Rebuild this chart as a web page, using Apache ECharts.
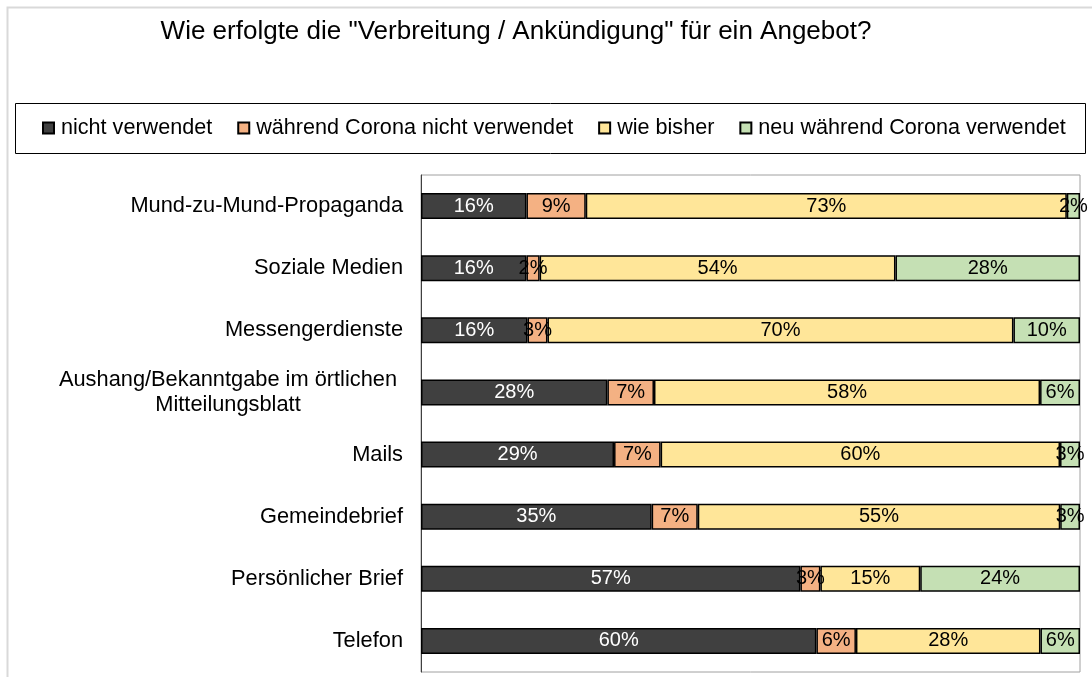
<!DOCTYPE html>
<html>
<head>
<meta charset="utf-8">
<script src="https://cdn.jsdelivr.net/npm/echarts@6/dist/echarts.min.js"></script>
<style>
  html, body { margin: 0; padding: 0; background: #fff; }
  #chart { width: 1092px; height: 677px; }
</style>
</head>
<body>
<div id="chart"></div>
<script>
var categories = [
  'Mund-zu-Mund-Propaganda',
  'Soziale Medien',
  'Messengerdienste',
  'Aushang/Bekanntgabe im örtlichen\nMitteilungsblatt',
  'Mails',
  'Gemeindebrief',
  'Persönlicher Brief',
  'Telefon'
];
var seriesNames = ['nicht verwendet', 'während Corona nicht verwendet', 'wie bisher', 'neu während Corona verwendet'];
// Prozentwerte wie beschriftet
var nichtVerwendet = [16, 16, 16, 28, 29, 35, 57, 60];
var coronaNicht = [9, 2, 3, 7, 7, 7, 3, 6];
var wieBisher = [73, 54, 70, 58, 60, 55, 15, 28];
var neuCorona = [2, 28, 10, 6, 3, 3, 24, 6];

var colors = ['#404040', '#f4b183', '#ffe699', '#c5e0b4'];
var labelColors = ['#fff', '#000', '#000', '#000'];

var chart = echarts.init(document.getElementById('chart'));

window.addEventListener('resize', function() {
  chart.resize();
});

// 100%-gestapelt: jede Zeile wird auf 100 normiert, Beschriftung bleibt der Wert
var rows = [nichtVerwendet, coronaNicht, wieBisher, neuCorona];
var totals = categories.map(function(c, i) {
  return rows[0][i] + rows[1][i] + rows[2][i] + rows[3][i];
});

var series = rows.map(function(vals, s) {
  return {
    name: seriesNames[s],
    type: 'bar',
    stack: 'total',
    barWidth: 26,
    itemStyle: {
      color: colors[s],
      borderColor: '#000',
      borderWidth: 1.5
    },
    label: {
      show: true,
      position: 'inside',
      color: labelColors[s],
      fontFamily: 'Liberation Sans, Arial, sans-serif',
      fontSize: 20,
      formatter: function(p) {
        return vals[p.dataIndex] + '%';
      }
    },
    emphasis: { disabled: true },
    data: vals.map(function(v, i) {
      return v / totals[i] * 100;
    })
  };
});

var option = {
  animation: false,
  textStyle: { fontFamily: 'Liberation Sans, Arial, sans-serif' },
  graphic: [{
    type: 'rect',
    shape: { x: 7.5, y: 7.5, width: 1100, height: 700 },
    style: { fill: 'none', stroke: '#d9d9d9', lineWidth: 2 },
    silent: true
  }, {
    type: 'rect',
    shape: { x: 15.5, y: 103.5, width: 1070, height: 50 },
    style: { fill: 'none', stroke: '#000', lineWidth: 1 },
    silent: true
  }],
  title: {
    text: 'Wie erfolgte die "Verbreitung / Ankündigung" für ein Angebot?',
    left: 511,
    top: 14,
    textAlign: 'center',
    textStyle: {
      fontSize: 26,
      fontWeight: 'normal',
      color: '#000',
      fontFamily: 'Liberation Sans, Arial, sans-serif'
    }
  },
  legend: {
    data: seriesNames,
    left: 42,
    top: 117,
    padding: 0,
    itemGap: 25,
    itemWidth: 11,
    itemHeight: 11,
    icon: 'rect',
    textStyle: {
      fontSize: 21.6,
      color: '#000',
      padding: [0, 0, 0, 2]
    }
  },
  grid: {
    left: 421,
    right: 12,
    top: 175,
    bottom: 5,
    show: true,
    borderColor: '#a0a0a0',
    borderWidth: 1
  },
  xAxis: {
    type: 'value',
    min: 0,
    max: 100,
    show: false
  },
  yAxis: {
    type: 'category',
    inverse: true,
    data: categories,
    axisLine: { lineStyle: { color: '#404040', width: 1 } },
    axisTick: { length: 7, lineStyle: { color: '#404040' } },
    axisLabel: {
      margin: 18,
      color: '#000',
      fontSize: 21.8,
      lineHeight: 25,
      formatter: function(value) {
        if (value.indexOf('\n') < 0) return value;
        return value.split('\n').map(function(line) {
          return '{c|' + line + '}';
        }).join('\n');
      },
      rich: {
        c: { width: 350, align: 'center', fontSize: 21.8, lineHeight: 25, color: '#000' }
      }
    }
  },
  series: series
};
chart.setOption(option);
</script>
</body>
</html>
